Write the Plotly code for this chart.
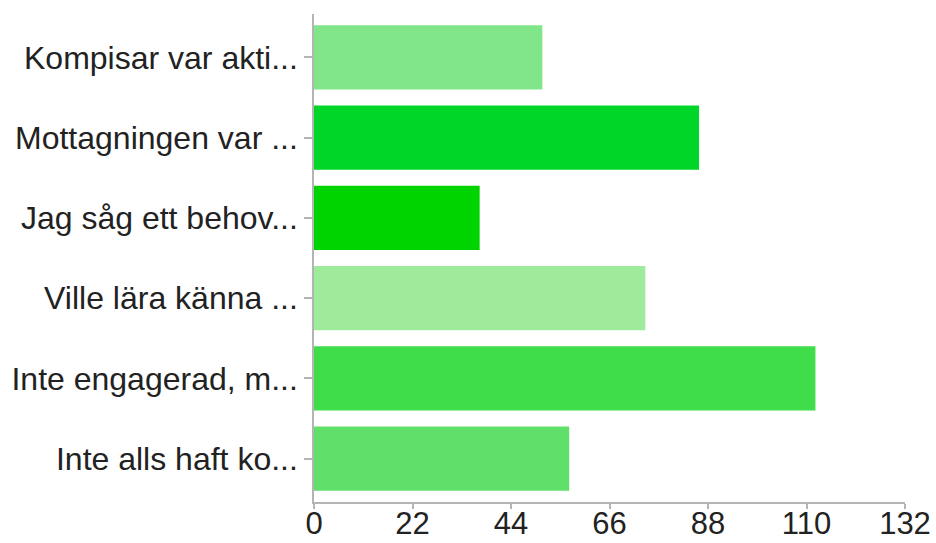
import plotly.graph_objects as go

categories = [
    "Kompisar var akti...",
    "Mottagningen var ...",
    "Jag såg ett behov...",
    "Ville lära känna ...",
    "Inte engagerad, m...",
    "Inte alls haft ko...",
]
values = [51, 86, 37, 74, 112, 57]
bar_colors = ["#80e689", "#00d628", "#00d400", "#9eeb9c", "#40dd4a", "#60e06a"]
x_ticks = [0, 22, 44, 66, 88, 110, 132]

fig = go.Figure(
    go.Bar(
        y=categories,
        x=values,
        orientation="h",
        marker=dict(color=bar_colors, line=dict(width=0)),
        width=0.8,
        hoverinfo="x+y",
    )
)

font_family = "Liberation Sans, Arial, Helvetica, sans-serif"

fig.update_layout(
    width=936,
    height=543,
    autosize=False,
    margin=dict(l=314, r=31, t=14, b=41, pad=0),
    paper_bgcolor="white",
    plot_bgcolor="white",
    showlegend=False,
    font=dict(family=font_family, size=32, color="#222222"),
    xaxis=dict(
        range=[0, 132],
        tickvals=x_ticks,
        ticktext=[str(t) for t in x_ticks],
        showgrid=False,
        zeroline=False,
        showline=True,
        linecolor="#b4b4b4",
        linewidth=1.5,
        ticks="outside",
        ticklen=5,
        tickcolor="#b4b4b4",
        tickwidth=1.5,
        tickfont=dict(size=31, color="#222222"),
        ticklabelstandoff=-12,
        automargin=False,
        fixedrange=True,
    ),
    yaxis=dict(
        type="category",
        categoryorder="array",
        categoryarray=categories,
        range=[5.54, -0.54],
        showgrid=False,
        zeroline=False,
        showline=True,
        linecolor="#b4b4b4",
        linewidth=1.5,
        ticks="outside",
        ticklen=8,
        tickcolor="#b4b4b4",
        tickwidth=1.5,
        tickfont=dict(size=32, color="#222222"),
        automargin=False,
        fixedrange=True,
    ),
)

fig.write_html(
    "out.html",
    config={"displayModeBar": False},
    post_script="document.body.style.margin='0';document.body.style.overflow='hidden';",
)
